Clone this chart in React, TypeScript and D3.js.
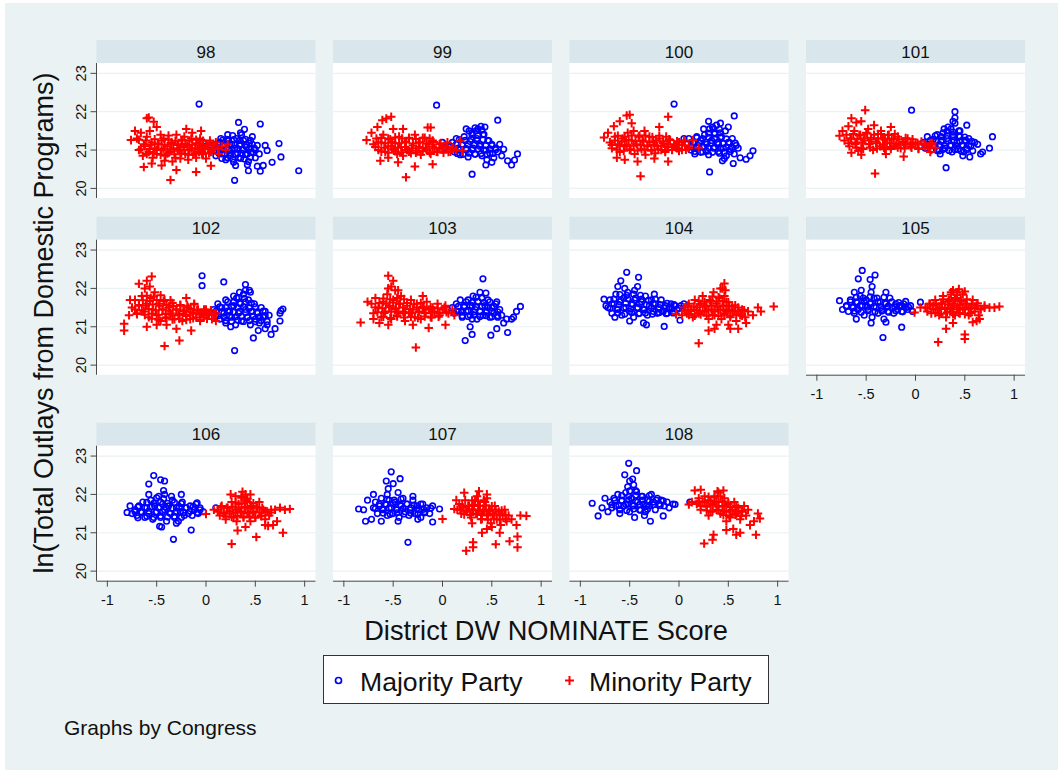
import React from 'react';
import * as d3 from 'd3';

type Pt = [number, number];

// congress numbers, one panel each
const congresses = ['98', '99', '100', '101', '102', '103', '104', '105', '106', '107', '108'];

// [DW NOMINATE, ln(outlays)], majority (o) and minority (+) party
const maj98: Pt[] = [[.12,21.05],[.14,21.2],[.16,20.9],[.18,21.1],[.2,20.75],[.21,21.28],[.23,21.0],[.25,20.85],[.26,21.15],[.28,20.68],[.29,21.05],[.31,21.3],[.32,20.92],[.34,21.12],[.35,20.78],[.37,21.0],[.38,21.25],[.4,20.88],[.41,21.08],[.43,20.7],[.44,21.18],[.46,20.95],[.47,21.35],[.49,21.05],[.5,20.8],[.52,21.12],[.54,20.9],[.22,21.4],[.3,20.6],[.36,21.4],[.42,20.62],[.05,21.0],[.08,21.15],[.1,20.85],[.15,21.3],[.27,21.38],
  [.16,20.78],[.22,20.8],[.27,20.76],[.33,20.8],[.39,20.77],[.45,20.81],[.13,20.92],[.19,20.9],[.24,20.93],[.3,20.89],[.36,20.92],[.42,20.9],[.48,20.93],[.15,21.02],[.21,21.04],[.26,21.0],[.32,21.03],[.38,21.01],[.44,21.04],[.5,21.0],[.12,21.15],[.18,21.13],[.24,21.16],[.29,21.13],[.35,21.16],[.41,21.14],[.47,21.15],[.17,21.26],[.23,21.24],[.28,21.27],[.34,21.25],[.4,21.28],[.45,21.25],
  [-.07,22.2],[.33,21.72],[.55,21.68],[.39,21.54],[.35,21.45],[.94,20.46],[.29,20.21],[.43,20.46],[.55,20.45],[.74,21.17],[.76,20.82],[.67,20.68],[.62,20.99],[.58,20.6],[.6,21.12],[.52,20.58],[0,21.1],[-.03,21.2]];
const min98: Pt[] = [[-.62,21.1],[-.58,20.95],[-.55,21.2],[-.52,21.05],[-.5,20.9],[-.48,21.15],[-.45,21.0],[-.43,21.3],[-.41,20.85],[-.39,21.1],[-.37,20.95],[-.35,21.2],[-.33,21.05],[-.31,20.8],[-.29,21.15],[-.27,20.98],[-.25,21.25],[-.23,21.08],[-.21,20.9],[-.19,21.12],[-.17,21.0],[-.15,21.3],[-.13,20.88],[-.11,21.05],[-.09,21.18],[-.07,20.95],[-.05,21.08],[-.03,20.9],[-.01,21.02],[.02,21.12],[.05,20.95],[.08,21.05],
  [-.7,21.3],[-.68,21.0],[-.66,21.45],[-.64,20.85],[-.6,21.35],[-.57,21.5],[-.54,20.8],[-.46,21.4],[-.42,20.72],[-.38,21.38],[-.34,20.7],[-.3,21.4],[-.26,20.78],[-.22,21.35],[-.18,20.75],[-.14,21.45],[-.1,20.8],[-.06,21.3],[0,20.78],[.04,21.25],[.1,21.2],[.13,20.9],[.16,21.1],[.2,21.0],[.22,21.15],
  [-.6,20.9],[-.53,20.92],[-.46,20.88],[-.39,20.91],[-.32,20.89],[-.25,20.92],[-.18,20.88],[-.11,20.91],[-.04,20.89],[.03,20.92],[-.66,21.02],[-.57,21.03],[-.5,21.0],[-.43,21.04],[-.36,21.01],[-.29,21.03],[-.22,21.0],[-.15,21.04],[-.08,21.01],[-.01,21.03],[.06,21.0],[.12,21.03],[-.63,21.15],[-.56,21.14],[-.49,21.17],[-.42,21.14],[-.35,21.16],[-.28,21.13],[-.21,21.16],[-.14,21.14],[-.07,21.17],[0,21.14],[.07,21.15],[-.68,21.27],[-.61,21.25],[-.52,21.28],[-.45,21.25],[-.38,21.27],[-.31,21.24],[-.24,21.27],[-.17,21.25],[-.1,21.27],[-.03,21.24],
  [-.76,21.26],[-.72,21.5],[-.6,21.83],[-.58,21.85],[-.53,21.74],[-.5,21.6],[-.63,20.56],[-.55,20.65],[-.36,20.22],[-.3,20.48],[-.45,20.6],[-.1,20.43],[.05,20.59],[-.2,21.55],[-.05,21.5]];

const maj99: Pt[] = [[.08,21.1],[.1,21.2],[.12,20.95],[.14,21.3],[.16,21.05],[.18,20.88],[.2,21.15],[.22,21.35],[.24,21.0],[.26,20.82],[.28,21.22],[.3,21.45],[.31,21.05],[.33,20.9],[.35,21.3],[.36,21.55],[.38,21.1],[.4,20.85],[.41,21.4],[.43,21.6],[.44,21.0],[.46,21.25],[.48,20.92],[.5,21.12],[.52,20.8],[.54,21.05],[.56,20.95],[.58,21.15],[.27,21.5],[.39,21.62],[.33,21.58],[.45,20.75],[.6,20.85],[.62,21.02],
  [.15,20.91],[.21,20.89],[.27,20.92],[.33,20.89],[.39,20.91],[.45,20.88],[.51,20.91],[.12,21.03],[.18,21.01],[.24,21.04],[.3,21.01],[.36,21.03],[.42,21.0],[.48,21.03],[.54,21.01],[.14,21.15],[.2,21.13],[.26,21.16],[.32,21.13],[.38,21.15],[.44,21.12],[.5,21.15],[.17,21.27],[.23,21.25],[.29,21.28],[.35,21.25],[.41,21.27],[.47,21.24],[.3,21.4],[.36,21.38],[.42,21.41],[.34,21.5],[.4,21.52],
  [-.06,22.17],[.56,21.78],[.3,20.37],[.76,20.9],[.7,20.61],[.73,20.74],[.44,20.61],[.24,21.55],[.5,20.68],[.66,20.72],[0,21.2],[.02,21.05]];
const min99: Pt[] = [[-.7,21.15],[-.67,21.3],[-.65,21.0],[-.62,21.2],[-.6,21.4],[-.58,20.95],[-.55,21.1],[-.53,21.28],[-.5,21.02],[-.48,21.18],[-.46,20.9],[-.44,21.35],[-.42,21.08],[-.4,20.85],[-.38,21.22],[-.36,21.0],[-.34,21.3],[-.32,20.92],[-.3,21.12],[-.28,21.4],[-.26,20.98],[-.24,21.2],[-.22,20.88],[-.2,21.05],[-.18,21.32],[-.16,21.0],[-.14,21.15],[-.12,20.9],[-.1,21.25],[-.08,21.05],[-.05,20.95],[-.03,21.15],[0,21.02],[.03,21.1],[.06,20.95],[.1,21.05],[.14,21.0],[.18,21.24],[.2,20.98],
  [-.62,20.96],[-.55,20.93],[-.48,20.97],[-.41,20.94],[-.34,20.96],[-.27,20.93],[-.2,20.97],[-.13,20.94],[-.06,20.96],[.01,20.93],[.08,20.96],[-.68,21.08],[-.59,21.06],[-.52,21.09],[-.45,21.06],[-.38,21.08],[-.31,21.05],[-.24,21.08],[-.17,21.06],[-.1,21.09],[-.03,21.06],[.04,21.08],[.11,21.06],[-.65,21.2],[-.58,21.18],[-.51,21.21],[-.44,21.18],[-.37,21.2],[-.3,21.17],[-.23,21.2],[-.16,21.18],[-.09,21.21],[-.02,21.18],[.05,21.2],[-.62,21.32],[-.55,21.3],[-.48,21.33],[-.41,21.3],[-.34,21.32],[-.27,21.29],[-.2,21.32],[-.13,21.3],
  [-.77,21.26],[-.72,21.45],[-.66,21.6],[-.61,21.78],[-.57,21.82],[-.52,21.87],[-.5,21.55],[-.4,21.55],[-.15,21.59],[-.12,21.59],[-.63,20.72],[-.55,20.8],[-.37,20.29],[-.28,20.57],[-.1,20.63],[-.45,20.68]];

const maj100: Pt[] = [[.08,21.15],[.1,21.3],[.12,21.0],[.14,21.2],[.16,20.9],[.18,21.35],[.2,21.08],[.22,21.25],[.24,20.95],[.26,21.4],[.28,21.15],[.3,20.88],[.31,21.55],[.33,21.25],[.35,21.05],[.36,21.45],[.38,21.65],[.4,21.15],[.41,20.92],[.43,21.35],[.45,21.05],[.47,21.5],[.48,20.85],[.5,21.2],[.52,21.02],[.54,21.3],[.56,20.9],[.58,21.12],[.6,21.05],[.34,21.6],[.42,21.7],[.25,21.55],[.46,20.78],
  [.16,20.96],[.22,20.94],[.28,20.97],[.34,20.94],[.4,20.96],[.46,20.93],[.52,20.96],[.12,21.08],[.18,21.06],[.24,21.09],[.3,21.06],[.36,21.08],[.42,21.05],[.48,21.08],[.54,21.06],[.15,21.2],[.21,21.18],[.27,21.21],[.33,21.18],[.39,21.2],[.45,21.17],[.51,21.2],[.57,21.18],[.18,21.32],[.24,21.3],[.3,21.33],[.36,21.3],[.42,21.32],[.48,21.29],[.3,21.44],[.36,21.42],[.42,21.45],[.35,21.56],[.41,21.54],
  [-.05,22.2],[.56,21.89],[.31,20.43],[.75,20.98],[.68,20.76],[.72,20.85],[.55,20.65],[.62,20.8],[.44,20.72],[.5,21.6],[.3,21.75],[.05,21.3]];
const min100: Pt[] = [[-.7,21.2],[-.68,21.05],[-.65,21.35],[-.62,21.15],[-.6,20.95],[-.57,21.3],[-.55,21.1],[-.52,21.45],[-.5,21.0],[-.48,21.25],[-.45,20.9],[-.43,21.15],[-.4,21.38],[-.38,21.02],[-.36,21.22],[-.34,20.88],[-.32,21.12],[-.3,21.35],[-.28,21.0],[-.26,21.2],[-.24,20.92],[-.22,21.1],[-.2,21.3],[-.18,21.0],[-.16,21.18],[-.14,20.95],[-.12,21.08],[-.1,21.28],[-.07,21.0],[-.05,21.15],[-.02,21.05],[0,21.2],[.03,21.0],[.06,21.12],[.1,21.05],[.14,21.26],[.2,21.06],[-.46,21.5],[-.35,21.5],
  [-.63,21.01],[-.56,20.98],[-.49,21.02],[-.42,20.99],[-.35,21.01],[-.28,20.98],[-.21,21.02],[-.14,20.99],[-.07,21.01],[0,20.98],[.07,21.01],[-.68,21.13],[-.6,21.11],[-.53,21.14],[-.46,21.11],[-.39,21.13],[-.32,21.1],[-.25,21.13],[-.18,21.11],[-.11,21.14],[-.04,21.11],[.03,21.13],[.1,21.11],[-.65,21.25],[-.58,21.23],[-.51,21.26],[-.44,21.23],[-.37,21.25],[-.3,21.22],[-.23,21.25],[-.16,21.23],[-.09,21.26],[-.02,21.23],[.05,21.25],[-.62,21.37],[-.55,21.35],[-.48,21.38],[-.41,21.35],[-.34,21.37],[-.27,21.34],[-.2,21.37],[-.13,21.35],
  [-.76,21.33],[-.72,21.45],[-.66,21.62],[-.6,21.75],[-.53,21.9],[-.5,21.92],[-.48,21.7],[-.11,21.87],[-.2,21.6],[-.63,20.8],[-.55,20.75],[-.39,20.32],[-.42,20.7],[-.11,20.7],[-.25,20.78]];

const maj101: Pt[] = [[.08,21.2],[.1,21.05],[.12,21.35],[.14,21.15],[.16,21.0],[.18,21.28],[.2,21.1],[.22,21.4],[.24,20.98],[.26,21.22],[.28,21.45],[.3,21.05],[.32,21.3],[.33,21.6],[.35,21.12],[.37,20.95],[.38,21.4],[.4,21.7],[.42,21.2],[.43,21.02],[.45,21.35],[.47,21.12],[.49,20.95],[.5,21.25],[.52,21.05],[.54,21.3],[.56,21.1],[.58,20.98],[.36,21.55],[.29,21.55],[.45,21.5],[.25,20.9],[.6,21.2],
  [.16,21.01],[.22,20.99],[.28,21.02],[.34,20.99],[.4,21.01],[.46,20.98],[.52,21.01],[.12,21.13],[.18,21.11],[.24,21.14],[.3,21.11],[.36,21.13],[.42,21.1],[.48,21.13],[.54,21.11],[.15,21.25],[.21,21.23],[.27,21.26],[.33,21.23],[.39,21.25],[.45,21.22],[.51,21.25],[.57,21.23],[.2,21.37],[.26,21.35],[.32,21.38],[.38,21.35],[.44,21.37],[.5,21.34],[.32,21.49],[.38,21.47],[.44,21.5],
  [-.04,22.04],[.4,22.0],[.4,21.84],[.38,21.75],[.31,20.54],[.78,21.35],[.75,21.05],[.66,20.9],[.55,20.82],[.63,21.15],[.48,20.85],[.68,20.95],[.52,21.65]];
const min101: Pt[] = [[-.72,21.25],[-.7,21.4],[-.67,21.1],[-.65,21.3],[-.62,21.5],[-.6,21.2],[-.57,21.38],[-.55,21.05],[-.52,21.25],[-.5,21.45],[-.47,21.15],[-.45,21.32],[-.43,21.0],[-.4,21.22],[-.38,21.42],[-.36,21.1],[-.33,21.3],[-.31,21.02],[-.29,21.2],[-.27,21.4],[-.25,21.08],[-.22,21.28],[-.2,21.12],[-.18,21.35],[-.15,21.05],[-.13,21.22],[-.1,21.15],[-.08,21.3],[-.05,21.1],[-.03,21.2],[0,21.15],[.03,21.05],[.06,21.22],[.1,21.12],[.13,21.05],[.17,21.18],[-.48,21.55],[-.35,21.5],[-.58,20.98],
  [-.6,21.06],[-.53,21.03],[-.46,21.07],[-.39,21.04],[-.32,21.06],[-.25,21.03],[-.18,21.07],[-.11,21.04],[-.04,21.06],[.03,21.03],[.1,21.06],[-.68,21.18],[-.61,21.16],[-.54,21.19],[-.47,21.16],[-.4,21.18],[-.33,21.15],[-.26,21.18],[-.19,21.16],[-.12,21.19],[-.05,21.16],[.02,21.18],[.09,21.16],[.15,21.18],[-.66,21.3],[-.59,21.28],[-.52,21.31],[-.45,21.28],[-.38,21.3],[-.31,21.27],[-.24,21.3],[-.17,21.28],[-.1,21.31],[-.03,21.28],[-.63,21.42],[-.56,21.4],[-.49,21.43],[-.42,21.4],[-.35,21.42],[-.28,21.39],[-.21,21.42],
  [-.77,21.37],[-.74,21.5],[-.68,21.62],[-.65,21.83],[-.6,21.72],[-.55,21.75],[-.51,22.04],[-.42,21.65],[-.25,21.6],[-.65,20.93],[-.55,20.88],[-.41,20.39],[-.12,20.83],[-.3,20.9],[.2,21.06],[.15,20.95]];

const maj102: Pt[] = [[.08,21.45],[.1,21.3],[.12,21.6],[.14,21.2],[.16,21.5],[.18,21.35],[.2,21.1],[.22,21.65],[.24,21.4],[.26,21.25],[.28,21.55],[.3,21.05],[.31,21.75],[.33,21.35],[.35,21.6],[.36,21.15],[.38,21.85],[.4,21.45],[.42,21.25],[.43,21.7],[.45,21.05],[.47,21.4],[.49,21.6],[.5,21.2],[.52,21.35],[.54,21.1],[.56,21.5],[.58,21.25],[.6,21.4],[.62,21.05],[.64,21.3],[.34,21.9],[.4,21.95],[.28,21.8],[.45,21.9],[.25,21.0],
  [.2,21.16],[.26,21.14],[.32,21.17],[.38,21.14],[.44,21.16],[.5,21.13],[.56,21.16],[.62,21.14],[.12,21.28],[.18,21.26],[.24,21.29],[.3,21.26],[.36,21.28],[.42,21.25],[.48,21.28],[.54,21.26],[.6,21.29],[.1,21.4],[.16,21.38],[.22,21.41],[.28,21.38],[.34,21.4],[.4,21.37],[.46,21.4],[.52,21.38],[.58,21.41],[.14,21.52],[.2,21.5],[.26,21.53],[.32,21.5],[.38,21.52],[.44,21.49],[.5,21.52],[.28,21.64],[.34,21.62],[.4,21.65],[.46,21.62],[.33,21.76],[.39,21.74],
  [-.04,22.33],[-.04,22.07],[.18,22.17],[.4,22.1],[.44,21.95],[.29,20.38],[.48,20.71],[.66,20.8],[.7,20.95],[.78,21.46],[.76,21.42],[.75,21.15],[.75,21.35],[.6,20.95],[.53,20.9],[.2,21.7]];
const min102: Pt[] = [[-.75,21.5],[-.72,21.7],[-.7,21.35],[-.68,21.55],[-.65,21.8],[-.63,21.4],[-.6,21.6],[-.58,21.25],[-.56,21.75],[-.54,21.45],[-.52,21.9],[-.5,21.3],[-.48,21.6],[-.46,21.15],[-.44,21.45],[-.42,21.7],[-.4,21.25],[-.38,21.5],[-.36,21.35],[-.34,21.62],[-.32,21.2],[-.3,21.45],[-.28,21.3],[-.26,21.55],[-.24,21.15],[-.22,21.4],[-.2,21.28],[-.18,21.5],[-.16,21.2],[-.14,21.38],[-.12,21.6],[-.1,21.25],[-.08,21.45],[-.06,21.15],[-.04,21.35],[-.02,21.25],[0,21.45],[.03,21.3],[.06,21.2],[.1,21.35],[-.62,22.0],[-.57,22.05],[-.5,21.05],[-.4,21.05],
  [-.55,21.21],[-.48,21.18],[-.41,21.22],[-.34,21.19],[-.27,21.21],[-.2,21.18],[-.13,21.22],[-.06,21.19],[.01,21.21],[-.7,21.33],[-.62,21.31],[-.55,21.34],[-.48,21.31],[-.41,21.33],[-.34,21.3],[-.27,21.33],[-.2,21.31],[-.13,21.34],[-.06,21.31],[.01,21.33],[.08,21.31],[-.72,21.45],[-.65,21.43],[-.58,21.46],[-.51,21.43],[-.44,21.45],[-.37,21.42],[-.3,21.45],[-.23,21.43],[-.16,21.46],[-.09,21.43],[-.02,21.45],[.05,21.43],[-.68,21.57],[-.61,21.55],[-.54,21.58],[-.47,21.55],[-.4,21.57],[-.33,21.54],[-.26,21.57],[-.19,21.55],[-.12,21.58],[-.64,21.69],[-.57,21.67],[-.5,21.7],[-.43,21.67],[-.36,21.69],[-.6,21.81],[-.53,21.79],[-.46,21.82],
  [-.83,21.08],[-.83,20.9],[-.78,21.3],[-.77,21.7],[-.68,22.12],[-.55,22.31],[-.6,22.2],[-.42,20.5],[-.27,20.64],[-.15,20.9],[-.3,20.95],[-.6,21.0],[-.2,21.75],[.1,21.15]];

const maj103: Pt[] = [[.1,21.5],[.12,21.35],[.14,21.6],[.16,21.4],[.18,21.7],[.2,21.25],[.22,21.55],[.24,21.4],[.26,21.7],[.28,21.3],[.3,21.55],[.31,21.8],[.33,21.45],[.35,21.2],[.36,21.65],[.38,21.4],[.4,21.75],[.41,21.3],[.43,21.55],[.45,21.4],[.46,21.7],[.48,21.25],[.5,21.5],[.52,21.35],[.54,21.6],[.56,21.25],[.58,21.45],[.6,21.3],[.38,21.9],[.44,21.88],[.3,21.2],
  [.2,21.29],[.26,21.27],[.32,21.3],[.38,21.27],[.44,21.29],[.5,21.26],[.56,21.29],[.14,21.41],[.2,21.39],[.26,21.42],[.32,21.39],[.38,21.41],[.44,21.38],[.5,21.41],[.56,21.39],[.16,21.53],[.22,21.51],[.28,21.54],[.34,21.51],[.4,21.53],[.46,21.5],[.52,21.53],[.24,21.65],[.3,21.63],[.36,21.66],[.42,21.63],[.48,21.65],[.34,21.77],[.4,21.75],
  [.41,22.25],[.23,20.64],[.3,20.8],[.28,21.0],[.49,20.78],[.55,20.95],[.62,21.1],[.66,20.85],[.65,21.2],[.72,21.25],[.75,21.4],[.79,21.53],[.7,21.2],[.55,21.65],[.05,21.45]];
const min103: Pt[] = [[-.72,21.6],[-.7,21.35],[-.68,21.75],[-.65,21.5],[-.62,21.25],[-.6,21.65],[-.58,21.4],[-.56,21.85],[-.54,21.55],[-.52,21.2],[-.5,21.7],[-.48,21.45],[-.46,21.3],[-.44,21.6],[-.42,21.8],[-.4,21.4],[-.38,21.15],[-.36,21.55],[-.34,21.35],[-.32,21.7],[-.3,21.45],[-.28,21.25],[-.26,21.6],[-.24,21.4],[-.22,21.2],[-.2,21.52],[-.18,21.35],[-.16,21.65],[-.14,21.45],[-.12,21.25],[-.1,21.5],[-.08,21.38],[-.05,21.6],[-.03,21.3],[0,21.45],[.03,21.55],[.06,21.35],[.1,21.45],[-.55,22.0],[-.48,21.95],[-.64,21.1],
  [-.6,21.26],[-.53,21.23],[-.46,21.27],[-.39,21.24],[-.32,21.26],[-.25,21.23],[-.18,21.27],[-.11,21.24],[-.04,21.26],[-.66,21.38],[-.59,21.36],[-.52,21.39],[-.45,21.36],[-.38,21.38],[-.31,21.35],[-.24,21.38],[-.17,21.36],[-.1,21.39],[-.03,21.36],[.04,21.38],[-.68,21.5],[-.61,21.48],[-.54,21.51],[-.47,21.48],[-.4,21.5],[-.33,21.47],[-.26,21.5],[-.19,21.48],[-.12,21.51],[-.05,21.48],[.02,21.5],[-.64,21.62],[-.57,21.6],[-.5,21.63],[-.43,21.6],[-.36,21.62],[-.29,21.59],[-.22,21.62],[-.6,21.74],[-.53,21.72],[-.46,21.75],[-.39,21.72],
  [-.83,21.11],[-.76,21.65],[-.55,22.33],[-.5,22.2],[-.52,22.05],[-.45,21.95],[-.27,20.46],[-.14,20.97],[.03,21.05],[-.3,21.05],[-.55,21.05],[-.7,21.2],[-.2,21.8],[.12,21.3]];

const maj104: Pt[] = [[-.72,21.5],[-.7,21.7],[-.68,21.35],[-.66,21.6],[-.64,21.85],[-.62,21.45],[-.6,21.65],[-.58,21.3],[-.56,21.75],[-.54,21.5],[-.52,21.9],[-.5,21.4],[-.48,21.6],[-.46,21.25],[-.44,21.75],[-.42,21.5],[-.4,21.35],[-.38,21.65],[-.36,21.45],[-.34,21.8],[-.32,21.3],[-.3,21.55],[-.28,21.7],[-.26,21.4],[-.24,21.6],[-.22,21.35],[-.2,21.5],[-.18,21.7],[-.16,21.4],[-.14,21.55],[-.12,21.35],[-.1,21.5],[-.08,21.6],[-.06,21.4],[-.04,21.55],[-.02,21.45],[.02,21.55],[-.55,22.0],[-.45,21.95],[-.62,22.05],
  [-.62,21.36],[-.55,21.33],[-.48,21.37],[-.41,21.34],[-.34,21.36],[-.27,21.33],[-.2,21.37],[-.13,21.34],[-.06,21.36],[-.7,21.48],[-.63,21.46],[-.56,21.49],[-.49,21.46],[-.42,21.48],[-.35,21.45],[-.28,21.48],[-.21,21.46],[-.14,21.49],[-.07,21.46],[0,21.48],[-.68,21.6],[-.61,21.58],[-.54,21.61],[-.47,21.58],[-.4,21.6],[-.33,21.57],[-.26,21.6],[-.19,21.58],[-.12,21.61],[-.05,21.58],[-.66,21.72],[-.59,21.7],[-.52,21.73],[-.45,21.7],[-.38,21.72],[-.31,21.69],[-.24,21.72],[-.6,21.84],[-.53,21.82],[-.46,21.85],[-.39,21.82],
  [-.53,22.42],[-.41,22.29],[-.59,22.2],[-.76,21.72],[-.74,21.55],[-.15,21.01],[.01,21.17],[-.33,21.05],[-.36,21.1],[-.5,21.15],[-.25,21.85],[-.42,22.05],[.05,21.6],[-.65,21.25]];
const min104: Pt[] = [[.05,21.5],[.08,21.35],[.1,21.6],[.12,21.45],[.14,21.25],[.16,21.7],[.18,21.5],[.2,21.35],[.22,21.6],[.24,21.8],[.26,21.4],[.28,21.55],[.3,21.2],[.31,21.7],[.33,21.45],[.35,21.9],[.36,21.3],[.38,21.6],[.4,21.45],[.41,21.75],[.43,21.2],[.45,21.55],[.46,21.35],[.48,21.65],[.5,21.45],[.52,21.25],[.54,21.55],[.56,21.4],[.58,21.15],[.6,21.5],[.62,21.3],[.64,21.45],[.67,21.25],[.7,21.4],[.42,22.0],[.47,21.95],[.38,21.05],[.5,21.05],
  [.1,21.31],[.16,21.29],[.22,21.32],[.28,21.29],[.34,21.31],[.4,21.28],[.46,21.31],[.52,21.29],[.58,21.32],[.64,21.29],[.06,21.43],[.12,21.41],[.18,21.44],[.24,21.41],[.3,21.43],[.36,21.4],[.42,21.43],[.48,21.41],[.54,21.44],[.6,21.41],[.66,21.43],[.09,21.55],[.15,21.53],[.21,21.56],[.27,21.53],[.33,21.55],[.39,21.52],[.45,21.55],[.51,21.53],[.57,21.56],[.2,21.67],[.26,21.65],[.32,21.68],[.38,21.65],[.44,21.67],[.5,21.64],[.34,21.79],[.4,21.77],[.46,21.8],
  [.46,22.13],[.44,22.0],[.96,21.53],[.8,21.5],[.83,21.4],[.75,21.3],[.2,20.57],[.3,20.9],[.6,20.95],[.52,20.95],[-.03,21.33],[.03,21.3],[.68,21.1],[.36,20.95]];

const maj105: Pt[] = [[-.7,21.55],[-.68,21.4],[-.66,21.7],[-.64,21.5],[-.62,21.35],[-.6,21.65],[-.58,21.45],[-.56,21.8],[-.54,21.55],[-.52,21.3],[-.5,21.7],[-.48,21.45],[-.46,21.6],[-.44,21.25],[-.42,21.75],[-.4,21.5],[-.38,21.35],[-.36,21.65],[-.34,21.45],[-.32,21.2],[-.3,21.6],[-.28,21.4],[-.26,21.75],[-.24,21.5],[-.22,21.35],[-.2,21.6],[-.18,21.45],[-.16,21.55],[-.14,21.4],[-.12,21.6],[-.1,21.5],[-.08,21.45],[-.05,21.55],[-.55,21.95],[-.45,21.9],[-.3,21.9],[-.62,21.9],
  [-.62,21.41],[-.55,21.38],[-.48,21.42],[-.41,21.39],[-.34,21.41],[-.27,21.38],[-.2,21.42],[-.13,21.39],[-.7,21.53],[-.63,21.51],[-.56,21.54],[-.49,21.51],[-.42,21.53],[-.35,21.5],[-.28,21.53],[-.21,21.51],[-.14,21.54],[-.07,21.51],[-.66,21.65],[-.59,21.63],[-.52,21.66],[-.45,21.63],[-.38,21.65],[-.31,21.62],[-.24,21.65],[-.17,21.63],[-.1,21.66],[-.6,21.77],[-.53,21.75],[-.46,21.78],[-.39,21.75],[-.32,21.77],
  [-.54,22.47],[-.58,22.25],[-.41,22.35],[-.46,22.23],[-.44,22.05],[-.77,21.68],[-.74,21.45],[-.33,20.72],[-.14,20.99],[-.45,21.1],[-.3,21.12],[-.6,21.2],[.05,21.64],[-.03,21.4]];
const min105: Pt[] = [[.1,21.5],[.12,21.4],[.14,21.6],[.16,21.35],[.18,21.55],[.2,21.7],[.22,21.45],[.24,21.3],[.26,21.6],[.28,21.8],[.3,21.5],[.31,21.25],[.33,21.65],[.35,21.4],[.36,21.9],[.38,21.55],[.4,21.3],[.41,21.75],[.43,21.5],[.45,21.35],[.46,21.65],[.48,21.85],[.5,21.45],[.52,21.6],[.54,21.3],[.56,21.5],[.58,21.7],[.6,21.4],[.62,21.55],[.64,21.3],[.66,21.45],[.7,21.5],[.44,21.98],[.5,21.92],
  [.2,21.36],[.26,21.34],[.32,21.37],[.38,21.34],[.44,21.36],[.5,21.33],[.56,21.36],[.12,21.48],[.18,21.46],[.24,21.49],[.3,21.46],[.36,21.48],[.42,21.45],[.48,21.48],[.54,21.46],[.6,21.49],[.66,21.46],[.15,21.6],[.21,21.58],[.27,21.61],[.33,21.58],[.39,21.6],[.45,21.57],[.51,21.6],[.57,21.58],[.63,21.61],[.28,21.72],[.34,21.7],[.4,21.73],[.46,21.7],[.52,21.72],[.36,21.84],[.42,21.82],
  [.38,21.95],[.42,21.9],[.85,21.53],[.8,21.5],[.75,21.5],[.7,21.55],[.65,21.2],[.62,21.15],[.58,21.12],[.23,20.6],[.31,20.95],[.5,20.8],[.5,20.68],[.38,21.1],[-.01,21.37],[.05,21.5]];

const maj106: Pt[] = [[-.72,21.6],[-.7,21.45],[-.68,21.7],[-.66,21.55],[-.64,21.8],[-.62,21.4],[-.6,21.65],[-.58,21.5],[-.56,21.85],[-.54,21.35],[-.52,21.7],[-.5,21.55],[-.48,21.95],[-.46,21.4],[-.44,21.75],[-.42,21.6],[-.4,21.3],[-.38,21.7],[-.36,21.5],[-.34,21.85],[-.32,21.4],[-.3,21.65],[-.28,21.3],[-.26,21.55],[-.24,21.8],[-.22,21.45],[-.2,21.65],[-.18,21.5],[-.16,21.7],[-.14,21.45],[-.12,21.6],[-.1,21.75],[-.08,21.5],[-.06,21.6],[-.03,21.55],[-.58,22.0],[-.42,22.0],[-.35,21.95],[-.25,22.0],
  [-.6,21.43],[-.53,21.4],[-.46,21.44],[-.39,21.41],[-.32,21.43],[-.25,21.4],[-.72,21.55],[-.65,21.53],[-.58,21.56],[-.51,21.53],[-.44,21.55],[-.37,21.52],[-.3,21.55],[-.23,21.53],[-.16,21.56],[-.09,21.53],[-.69,21.67],[-.62,21.65],[-.55,21.68],[-.48,21.65],[-.41,21.67],[-.34,21.64],[-.27,21.67],[-.2,21.65],[-.13,21.68],[-.06,21.65],[-.6,21.79],[-.53,21.77],[-.46,21.8],[-.39,21.77],[-.32,21.79],[-.25,21.76],[-.5,21.91],[-.43,21.89],
  [-.53,22.49],[-.46,22.38],[-.42,22.35],[-.58,22.27],[-.43,22.1],[-.8,21.53],[-.77,21.7],[-.75,21.5],[-.33,20.83],[-.15,21.07],[-.47,21.17],[-.45,21.15],[-.69,21.39],[-.3,21.25],[-.09,21.78],[.1,21.65]];
const min106: Pt[] = [[.12,21.6],[.14,21.45],[.16,21.7],[.18,21.5],[.2,21.35],[.22,21.65],[.24,21.5],[.26,21.8],[.28,21.4],[.3,21.6],[.31,21.3],[.33,21.75],[.35,21.55],[.36,21.95],[.38,21.4],[.4,21.65],[.41,21.85],[.43,21.5],[.45,21.3],[.46,21.7],[.48,21.55],[.5,21.4],[.52,21.65],[.54,21.8],[.56,21.45],[.58,21.6],[.6,21.35],[.62,21.55],[.64,21.45],[.66,21.6],[.7,21.6],[.4,22.0],[.3,21.95],
  [.2,21.43],[.26,21.41],[.32,21.44],[.38,21.41],[.44,21.43],[.5,21.4],[.56,21.43],[.12,21.55],[.18,21.53],[.24,21.56],[.3,21.53],[.36,21.55],[.42,21.52],[.48,21.55],[.54,21.53],[.6,21.56],[.66,21.53],[.15,21.67],[.21,21.65],[.27,21.68],[.33,21.65],[.39,21.67],[.45,21.64],[.51,21.67],[.57,21.65],[.3,21.79],[.36,21.77],[.42,21.8],[.48,21.77],[.36,21.91],[.42,21.89],
  [.37,22.07],[.25,22.0],[.45,22.0],[0,21.49],[.08,21.6],[.26,20.71],[.32,21.06],[.51,20.89],[.78,21.0],[.85,21.62],[.8,21.6],[.75,21.65],[.72,21.3],[.68,21.2],[.63,21.18],[.6,21.2],[.4,21.15]];

const maj107: Pt[] = [[-.7,21.65],[-.68,21.8],[-.66,21.5],[-.64,21.7],[-.62,21.9],[-.6,21.6],[-.58,21.75],[-.56,21.45],[-.54,21.85],[-.52,21.65],[-.5,21.5],[-.48,21.8],[-.46,21.6],[-.44,21.4],[-.42,21.7],[-.4,21.9],[-.38,21.55],[-.36,21.75],[-.34,21.45],[-.32,21.65],[-.3,21.85],[-.28,21.5],[-.26,21.7],[-.24,21.6],[-.22,21.4],[-.2,21.75],[-.18,21.55],[-.16,21.65],[-.13,21.5],[-.1,21.7],[-.56,22.0],[-.45,22.05],[-.3,21.95],
  [-.6,21.51],[-.53,21.48],[-.46,21.52],[-.39,21.49],[-.32,21.51],[-.25,21.48],[-.18,21.52],[-.68,21.63],[-.61,21.61],[-.54,21.64],[-.47,21.61],[-.4,21.63],[-.33,21.6],[-.26,21.63],[-.19,21.61],[-.12,21.64],[-.64,21.75],[-.57,21.73],[-.5,21.76],[-.43,21.73],[-.36,21.75],[-.29,21.72],[-.22,21.75],[-.56,21.87],[-.49,21.85],[-.42,21.88],
  [-.52,22.59],[-.43,22.41],[-.57,22.35],[-.5,22.28],[-.55,22.15],[-.85,21.62],[-.78,21.3],[-.8,21.6],[-.72,21.35],[-.35,20.75],[-.1,21.28],[-.03,21.62],[-.45,21.3],[-.25,21.35],[-.62,21.3],[-.76,21.85],[-.7,22.0]];
const min107: Pt[] = [[.15,21.6],[.17,21.75],[.19,21.5],[.21,21.65],[.23,21.85],[.25,21.55],[.27,21.7],[.29,21.4],[.31,21.6],[.33,21.85],[.35,21.5],[.37,21.7],[.39,21.35],[.41,21.55],[.43,21.8],[.45,21.45],[.47,21.6],[.49,21.25],[.51,21.5],[.53,21.7],[.55,21.35],[.57,21.55],[.59,21.2],[.61,21.45],[.63,21.6],[.65,21.3],[.67,21.45],[.7,21.35],[.35,21.95],[.45,21.9],[.3,21.25],[.5,21.15],
  [.4,21.36],[.46,21.34],[.52,21.37],[.58,21.34],[.64,21.36],[.22,21.48],[.28,21.46],[.34,21.49],[.4,21.46],[.46,21.48],[.52,21.45],[.58,21.48],[.64,21.46],[.18,21.6],[.24,21.58],[.3,21.61],[.36,21.58],[.42,21.6],[.48,21.57],[.54,21.6],[.6,21.58],[.2,21.72],[.26,21.7],[.32,21.73],[.38,21.7],[.44,21.72],[.5,21.69],[.3,21.84],[.36,21.82],[.42,21.85],
  [0,21.36],[.12,21.62],[.14,21.85],[.22,22.04],[.37,22.08],[.45,22.0],[.24,20.53],[.31,20.62],[.31,20.75],[.54,20.7],[.68,20.78],[.76,20.62],[.76,20.9],[.85,21.44],[.79,21.45],[.75,21.2],[.4,21.0],[.58,21.0],[.45,21.1]];

const maj108: Pt[] = [[-.7,21.8],[-.68,21.65],[-.66,21.9],[-.64,21.7],[-.62,22.0],[-.6,21.6],[-.58,21.85],[-.56,21.7],[-.54,22.05],[-.52,21.75],[-.5,21.55],[-.48,21.9],[-.46,21.7],[-.44,22.1],[-.42,21.8],[-.4,21.6],[-.38,21.95],[-.36,21.75],[-.34,21.55],[-.32,21.85],[-.3,21.7],[-.28,22.0],[-.26,21.8],[-.24,21.6],[-.22,21.9],[-.2,21.75],[-.18,21.85],[-.15,21.7],[-.12,21.8],[-.1,21.65],[-.52,22.2],[-.46,22.25],
  [-.6,21.61],[-.53,21.58],[-.46,21.62],[-.39,21.59],[-.32,21.61],[-.68,21.73],[-.61,21.71],[-.54,21.74],[-.47,21.71],[-.4,21.73],[-.33,21.7],[-.26,21.73],[-.19,21.71],[-.65,21.85],[-.58,21.83],[-.51,21.86],[-.44,21.83],[-.37,21.85],[-.3,21.82],[-.23,21.85],[-.16,21.83],[-.58,21.97],[-.51,21.95],[-.44,21.98],[-.37,21.95],[-.3,21.97],[-.5,22.09],[-.43,22.07],
  [-.51,22.81],[-.43,22.62],[-.55,22.51],[-.47,22.4],[-.5,22.35],[-.88,21.77],[-.82,21.44],[-.78,21.65],[-.75,21.9],[-.72,21.55],[-.29,21.3],[-.16,21.44],[-.04,21.74],[-.06,21.75],[.11,21.8],[-.45,21.4],[-.35,21.45],[-.6,21.5]];
const min108: Pt[] = [[.18,21.75],[.2,21.9],[.22,21.6],[.24,21.8],[.26,21.95],[.28,21.7],[.3,21.85],[.32,21.55],[.34,21.75],[.36,21.95],[.38,21.6],[.4,21.8],[.42,21.5],[.44,21.7],[.46,21.9],[.48,21.55],[.5,21.75],[.52,21.4],[.54,21.6],[.56,21.8],[.58,21.5],[.6,21.65],[.62,21.35],[.64,21.55],[.66,21.7],[.68,21.45],[.7,21.6],[.4,22.05],[.3,21.45],[.48,21.3],
  [.45,21.46],[.51,21.44],[.57,21.47],[.63,21.44],[.28,21.58],[.34,21.56],[.4,21.59],[.46,21.56],[.52,21.58],[.58,21.55],[.64,21.58],[.22,21.7],[.28,21.68],[.34,21.71],[.4,21.68],[.46,21.7],[.52,21.67],[.58,21.7],[.2,21.82],[.26,21.8],[.32,21.83],[.38,21.8],[.44,21.82],[.5,21.79],[.3,21.94],[.36,21.92],[.42,21.95],
  [.16,22.1],[.22,22.12],[.39,22.08],[.45,22.1],[.1,21.74],[.13,21.8],[.255,20.72],[.34,20.82],[.35,20.95],[.48,21.07],[.55,21.1],[.58,20.95],[.62,21.0],[.78,20.95],[.82,21.37],[.8,21.5],[.76,21.3],[.72,21.2]];

const majority = [maj98, maj99, maj100, maj101, maj102, maj103, maj104, maj105, maj106, maj107, maj108];
const minority = [min98, min99, min100, min101, min102, min103, min104, min105, min106, min107, min108];

const xTicks = [-1, -0.5, 0, 0.5, 1];
const xTickLabels = ['-1', '-.5', '0', '.5', '1'];
const yTicks = [20, 21, 22, 23];

const font = 'Liberation Sans, Arial, Helvetica, sans-serif';
const bg = '#EAF2F3';
const strip = '#D9E6EB';
const axisColor = '#4a4a4a';

const panelW = 219;
const stripH = 23;
const plotH = 135;
const colX = [96.5, 333, 569.5, 806];
const rowTop = [40, 216.7, 422.7];

const x = d3.scaleLinear().domain([-1.11, 1.11]).range([0, panelW]);
const y = d3.scaleLinear().domain([19.75, 23.27]).range([plotH, 0]);

const Panel = ({ i }: { i: number }) => {
  const col = i % 4;
  const row = Math.floor(i / 4);
  const left = colX[col];
  const top = rowTop[row];
  const showY = col === 0;
  const showX = i >= 7;
  return (
    <g transform={`translate(${left},${top})`}>
      <rect width={panelW} height={stripH} fill={strip} />
      <text x={panelW / 2} y={17.5} textAnchor="middle" fontSize={17} fill="#111">
        {congresses[i]}
      </text>
      <g transform={`translate(0,${stripH})`}>
        <rect width={panelW} height={plotH} fill="#fff" />
        {yTicks.map(t => (
          <line key={t} x1={0} x2={panelW} y1={y(t)} y2={y(t)} stroke={bg} strokeWidth={1.2} />
        ))}
        {majority[i].map((d, k) => (
          <circle key={k} cx={x(d[0])} cy={y(d[1])} r={2.8} fill="none" stroke="#0000FF" strokeWidth={1.6} />
        ))}
        {minority[i].map((d, k) => (
          <path
            key={k}
            d={`M${x(d[0]) - 4.3},${y(d[1])}h8.6M${x(d[0])},${y(d[1]) - 4.3}v8.6`}
            stroke="#FF0000"
            strokeWidth={2}
          />
        ))}
        {showY && (
          <g>
            <line x1={0} x2={0} y1={0} y2={plotH} stroke={axisColor} strokeWidth={1} />
            {yTicks.map(t => (
              <g key={t}>
                <line x1={-6} x2={0} y1={y(t)} y2={y(t)} stroke={axisColor} />
                <text
                  transform={`translate(-10.5,${y(t)}) rotate(-90)`}
                  textAnchor="middle"
                  fontSize={14.5}
                  fill="#111"
                >
                  {t}
                </text>
              </g>
            ))}
          </g>
        )}
        {showX && (
          <g transform={`translate(0,${plotH})`}>
            <line x1={0} x2={panelW} y1={0.5} y2={0.5} stroke={axisColor} strokeWidth={1} />
            {xTicks.map((t, k) => (
              <g key={t}>
                <line x1={x(t)} x2={x(t)} y1={0} y2={6} stroke={axisColor} />
                <text x={x(t)} y={24} textAnchor="middle" fontSize={14.5} fill="#111">
                  {xTickLabels[k]}
                </text>
              </g>
            ))}
          </g>
        )}
      </g>
    </g>
  );
};

export default function App() {
  return (
    <svg
      width={1063}
      height={773}
      style={{ position: 'absolute', left: 0, top: 0, fontFamily: font }}
    >
      <rect width={1063} height={773} fill="#fff" />
      <rect x={5} y={3} width={1053} height={767} fill={bg} />
      {congresses.map((c, i) => (
        <Panel key={c} i={i} />
      ))}
      <text
        transform="translate(53,323) rotate(-90)"
        textAnchor="middle"
        fontSize={27}
        fill="#111"
      >
        ln(Total Outlays from Domestic Programs)
      </text>
      <text x={546} y={640} textAnchor="middle" fontSize={27.2} fill="#111">
        District DW NOMINATE Score
      </text>
      <g>
        <rect x={323.5} y={655.5} width={445} height={48} fill="#fff" stroke="#333" strokeWidth={1} />
        <circle cx={338.5} cy={680.5} r={3} fill="none" stroke="#0000FF" strokeWidth={1.7} />
        <text x={360} y={691} fontSize={26.6} fill="#111">Majority Party</text>
        <path d="M565,680.5h9M569.5,676v9" stroke="#FF0000" strokeWidth={2} />
        <text x={589} y={691} fontSize={26.6} fill="#111">Minority Party</text>
      </g>
      <text x={64} y={735} fontSize={21} fill="#111">Graphs by Congress</text>
    </svg>
  );
}
